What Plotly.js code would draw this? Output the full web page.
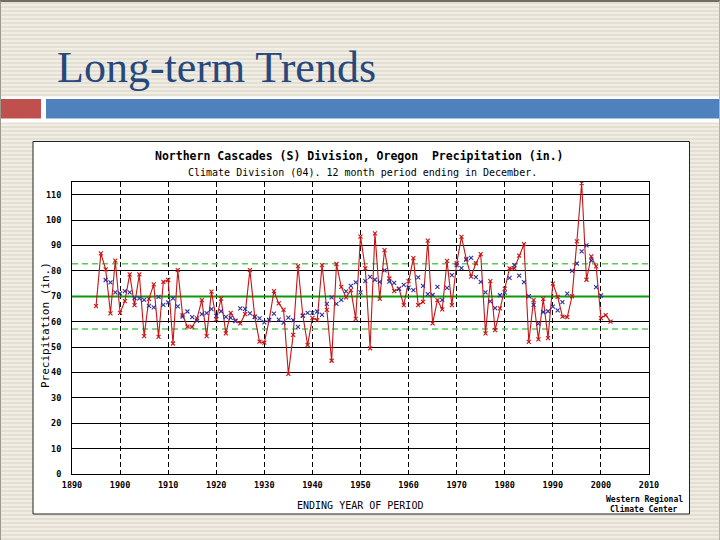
<!DOCTYPE html>
<html><head><meta charset="utf-8">
<script src="https://cdn.plot.ly/plotly-3.0.1.min.js"></script>
<style>
html,body{margin:0;padding:0;width:720px;height:540px;overflow:hidden}
body{background:repeating-linear-gradient(to bottom,#EFEDE4 0px,#EFEDE4 2px,#E3E0D3 2px,#E3E0D3 4px);}
#chart{position:absolute;left:0;top:0;width:720px;height:540px}
#frame{position:absolute;left:0;top:0;width:718px;height:538px;border-top:2px solid #6E6E64;border-left:1px solid #9A9A90;border-right:1px solid #B4B4AA;pointer-events:none}
</style></head>
<body><div id="chart"></div><div id="frame"></div>
<script>
// ---- data ----
const slideTitle = "Long-term Trends";
const chartTitle = "Northern Cascades (S) Division, Oregon  Precipitation (in.)";
const chartSubtitle = "Climate Division (04). 12 month period ending in December.";
const xTitle = "ENDING YEAR OF PERIOD";
const yTitle = "Precipitation (in.)";
const creditLines = ["Western Regional", "Climate Center"];

const xRange = [1890, 2010];
const yRange = [0, 115];
const xTickVals = [1890,1900,1910,1920,1930,1940,1950,1960,1970,1980,1990,2000,2010];
const xTickText = ["1890","1900","1910","1920","1930","1940","1950","1960","1970","1980","1990","2000","2010"];
const yTickVals = [0,10,20,30,40,50,60,70,80,90,100,110];
const yTickText = ["0","10","20","30","40","50","60","70","80","90","100","110"];

const precipYears = [
 1895,1896,1897,1898,1899,
 1900,1901,1902,1903,1904,1905,1906,1907,1908,1909,
 1910,1911,1912,1913,1914,1915,1916,1917,1918,1919,
 1920,1921,1922,1923,1924,1925,1926,1927,1928,1929,
 1930,1931,1932,1933,1934,1935,1936,1937,1938,1939,
 1940,1941,1942,1943,1944,1945,1946,1947,1948,1949,
 1950,1951,1952,1953,1954,1955,1956,1957,1958,1959,
 1960,1961,1962,1963,1964,1965,1966,1967,1968,1969,
 1970,1971,1972,1973,1974,1975,1976,1977,1978,1979,
 1980,1981,1982,1983,1984,1985,1986,1987,1988,1989,
 1990,1991,1992,1993,1994,1995,1996,1997,1998,1999,
 2000,2001,2002];
const precip = [
 66.1,86.9,80.6,63.3,84.0,
 63.5,68.1,78.6,66.5,78.6,54.3,69.0,74.7,54.0,75.7,
 76.4,51.4,80.3,62.6,58.0,57.9,61.3,68.5,54.3,71.8,
 60.9,69.1,55.4,63.5,60.4,59.3,63.0,80.3,62.0,52.1,
 51.7,60.6,72.0,67.2,64.6,39.4,54.8,81.9,62.5,50.8,
 61.5,60.6,82.3,64.6,44.6,82.7,73.7,69.6,72.4,61.1,
 93.5,81.0,49.5,94.8,69.0,88.2,77.0,72.0,73.0,66.5,
 76.0,85.0,66.5,67.8,91.9,59.3,68.5,64.8,83.9,66.5,
 83.0,93.4,84.7,77.7,83.0,86.6,55.4,76.0,56.7,65.2,
 73.0,81.0,81.0,86.0,90.5,52.0,68.5,53.0,69.0,53.5,
 75.0,69.8,62.0,61.8,70.0,91.6,114.6,76.5,85.7,81.8,
 61.4,62.6,60.0];

const smoothYears = [
 1897,1898,1899,
 1900,1901,1902,1903,1904,1905,1906,1907,1908,1909,
 1910,1911,1912,1913,1914,1915,1916,1917,1918,1919,
 1920,1921,1922,1923,1924,1925,1926,1927,1928,1929,
 1930,1931,1932,1933,1934,1935,1936,1937,1938,1939,
 1940,1941,1942,1943,1944,1945,1946,1947,1948,1949,
 1950,1951,1952,1953,1954,1955,1956,1957,1958,1959,
 1960,1961,1962,1963,1964,1965,1966,1967,1968,1969,
 1970,1971,1972,1973,1974,1975,1976,1977,1978,1979,
 1980,1981,1982,1983,1984,1985,1986,1987,1988,1989,
 1990,1991,1992,1993,1994,1995,1996,1997,1998,1999,
 2000];
const smoothed = [
 76.4,75.5,71.5,
 71.1,72.0,71.5,69.3,69.2,68.6,66.2,65.6,69.8,66.6,
 67.6,69.2,66.0,62.0,64.0,61.8,60.4,63.0,63.4,64.9,
 62.3,64.1,61.9,61.5,60.2,65.2,65.0,63.3,61.8,61.3,
 59.7,60.7,63.2,60.8,59.6,61.6,60.6,57.9,62.3,63.5,
 63.5,64.0,62.7,67.0,69.6,67.0,68.6,71.9,74.1,75.5,
 71.5,76.0,77.6,76.5,75.7,80.2,75.8,75.3,72.9,74.5,
 73.4,72.4,77.4,74.1,70.8,70.5,73.7,68.6,73.3,78.3,
 82.3,81.1,84.4,85.1,77.5,75.7,71.5,68.0,65.3,70.4,
 71.4,77.2,82.3,78.1,75.6,70.0,66.6,59.2,63.8,64.1,
 65.9,64.4,67.7,71.0,80.0,82.9,87.7,90.0,84.0,73.6,
 70.3];

const meanLevel = 69.9;
const upperLevel = 82.8;
const lowerLevel = 57.1;

// ---- layout helpers (pixel -> paper) ----
const W = 720, H = 540;
const M = {l: 72, r: 71, t: 182, b: 66};
const pw = W - M.l - M.r, ph = H - M.t - M.b;
const px = x => (x - M.l) / pw;
const py = y => (H - M.b - y) / ph;

const mono = "DejaVu Sans Mono, monospace";

function levelTrace(v, color, width, dash) {
  return {x: xRange, y: [v, v], type: 'scatter', mode: 'lines',
    line: {color: color, width: width, dash: dash}, hoverinfo: 'skip', cliponaxis: true};
}

const traces = [
  levelTrace(upperLevel, '#5CC85C', 1.3, '6px,4px'),
  levelTrace(lowerLevel, '#5CC85C', 1.3, '6px,4px'),
  levelTrace(meanLevel, '#0A9A0A', 2, 'solid'),
  {x: precipYears, y: precip, type: 'scatter', mode: 'lines+markers',
   line: {color: '#C81414', width: 1.1},
   marker: {symbol: 'x-thin', size: 4, line: {color: '#C81414', width: 1.1}},
   hoverinfo: 'skip'},
  {x: smoothYears, y: smoothed, type: 'scatter', mode: 'markers',
   marker: {symbol: 'x-thin', size: 4, line: {color: '#3030A0', width: 1.1}},
   hoverinfo: 'skip'}
];

const shapes = [
  // white chart panel
  {type: 'rect', xref: 'paper', yref: 'paper', layer: 'below',
   x0: px(33), x1: px(689.5), y0: py(514), y1: py(141.5),
   fillcolor: '#FFFFFF', line: {color: '#222222', width: 1}},
  // slide header band
  {type: 'rect', xref: 'paper', yref: 'paper', layer: 'above',
   x0: px(0), x1: px(720), y0: py(122.5), y1: py(96.5),
   fillcolor: '#FFFFFF', line: {width: 0}},
  {type: 'rect', xref: 'paper', yref: 'paper', layer: 'above',
   x0: px(0), x1: px(41), y0: py(118.5), y1: py(99),
   fillcolor: '#C0504D', line: {width: 0}},
  {type: 'rect', xref: 'paper', yref: 'paper', layer: 'above',
   x0: px(46), x1: px(720), y0: py(118.5), y1: py(99),
   fillcolor: '#4F81BD', line: {width: 0}}
];

const annotations = [
  {text: slideTitle, xref: 'paper', yref: 'paper', x: px(55), y: py(67),
   xanchor: 'left', yanchor: 'middle', showarrow: false,
   font: {family: 'Liberation Serif, Times New Roman, serif', size: 44, color: '#27487C'}},
  {text: chartTitle, xref: 'paper', yref: 'paper', x: px(359), y: py(156),
   xanchor: 'center', yanchor: 'middle', showarrow: false,
   font: {family: mono, size: 11.5, color: '#000', weight: 'bold'}},
  {text: chartSubtitle, xref: 'paper', yref: 'paper', x: px(362), y: py(172.5),
   xanchor: 'center', yanchor: 'middle', showarrow: false,
   font: {family: mono, size: 10, color: '#000'}},
  {text: xTitle, xref: 'paper', yref: 'paper', x: px(360), y: py(505),
   xanchor: 'center', yanchor: 'middle', showarrow: false,
   font: {family: mono, size: 10, color: '#000'}},
  {text: yTitle, xref: 'paper', yref: 'paper', x: px(45), y: py(325),
   xanchor: 'center', yanchor: 'middle', showarrow: false, textangle: -90,
   font: {family: mono, size: 11, color: '#000'}},
  {text: creditLines[0], xref: 'paper', yref: 'paper', x: px(644), y: py(499),
   xanchor: 'center', yanchor: 'middle', showarrow: false,
   font: {family: mono, size: 8, color: '#000', weight: 'bold'}},
  {text: creditLines[1], xref: 'paper', yref: 'paper', x: px(644), y: py(509),
   xanchor: 'center', yanchor: 'middle', showarrow: false,
   font: {family: mono, size: 8, color: '#000', weight: 'bold'}}
];

const layout = {
  width: W, height: H, margin: M,
  paper_bgcolor: 'rgba(0,0,0,0)', plot_bgcolor: '#FFFFFF',
  showlegend: false,
  xaxis: {range: xRange, tickvals: xTickVals, ticktext: xTickText,
    showgrid: true, gridcolor: '#000', gridwidth: 1, griddash: '5px,3px',
    showline: true, mirror: true, linecolor: '#000', linewidth: 1,
    zeroline: false, ticks: '', ticklabelstandoff: 3,
    tickfont: {family: mono, size: 8.5, color: '#000', weight: 'bold'}},
  yaxis: {range: yRange, tickvals: yTickVals, ticktext: yTickText,
    showgrid: true, gridcolor: '#000', gridwidth: 1,
    showline: true, mirror: true, linecolor: '#000', linewidth: 1,
    zeroline: false, ticks: '', ticklabelstandoff: 8,
    tickfont: {family: mono, size: 8.5, color: '#000', weight: 'bold'}},
  shapes: shapes,
  annotations: annotations
};

Plotly.newPlot('chart', traces, layout, {staticPlot: true, displayModeBar: false});
</script>
</body></html>
